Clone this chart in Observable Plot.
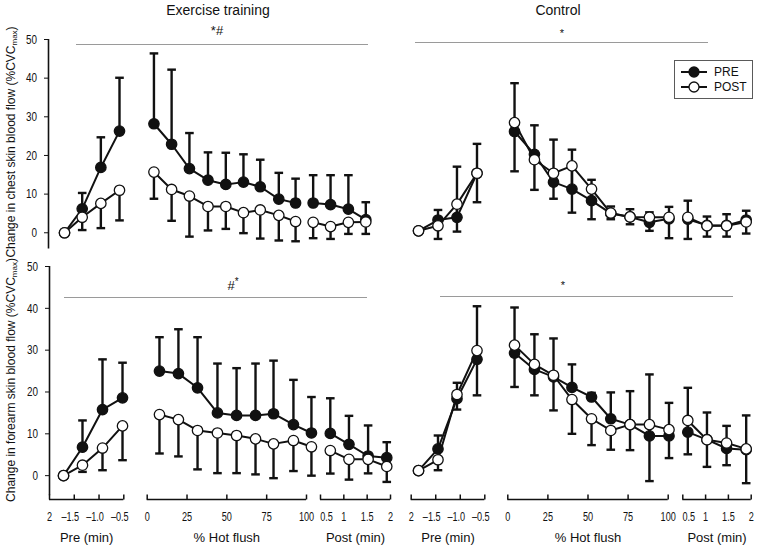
<!DOCTYPE html>
<html>
<head>
<meta charset="utf-8">
<script src="https://cdn.jsdelivr.net/npm/d3@7"></script>
<script src="https://cdn.jsdelivr.net/npm/@observablehq/plot@0.6"></script>
<style>
  html, body { margin: 0; padding: 0; background: #fff; }
  #fig { position: relative; width: 758px; height: 545px; overflow: hidden;
         font-family: "Liberation Sans", Arial, Helvetica, sans-serif; color: #111; }
  .abs { position: absolute; white-space: nowrap; line-height: 1; }
  .title { font-size: 14px; transform: translate(-50%, -50%); }
  .ylab { font-size: 12px; transform: translate(-50%, -50%) rotate(-90deg); }
  .ylab sub { font-size: 8px; vertical-align: -2px; }
  .sig { position: absolute; height: 1.5px; background: #9a9a9a; }
  .mark { transform: translate(-50%, -50%); }
  .legend { position: absolute; border: 1.5px solid #5a5a5a; background: #fff; box-sizing: border-box; }
  .lrow { position: absolute; left: 6px; height: 12px; display: flex; align-items: center; font-size: 12px; }
  .lrow svg { display: block; margin-right: 7px; }
</style>
</head>
<body>
<div id="fig"></div>
<script>
// ---------------- data ----------------
const segmentTitles = ["Pre (min)", "% Hot flush", "Post (min)"];
const preTicks = [-2, -1.5, -1, -0.5];
const preTickLabels = ["2", "\u20131.5", "\u20131.0", "\u20130.5"];
const hotTicks = [0, 25, 50, 75, 100];
const hotTickLabels = ["0", "25", "50", "75", "100"];
const postTicks = [0.5, 1, 1.5, 2];
const postTickLabels = ["0.5", "1", "1.5", "2"];
const yTicks = [0, 10, 20, 30, 40, 50];

// x positions of the measurements (segment units)
const leftPreX  = [-1.717, -1.334, -0.930, -0.526];
const leftHotX  = [7.7, 19.6, 31.6, 44.1, 56.1, 68.0, 79.3, 91.8, 103.1];
const leftPostX = [0.71, 1.11, 1.52, 1.92];
const rightPreX  = [-1.851, -1.454, -1.067, -0.659];
const rightHotX  = [4.2, 16.6, 28.5, 40.0, 52.2, 64.2, 76.2, 88.3, 100.5];
const rightPostX = [0.61, 1.03, 1.46, 1.89];

// Chest, exercise training
const chestExPre    = [0, 6.2, 16.9, 26.3, 28.2, 22.9, 16.6, 13.6, 12.5, 13.1, 11.9, 8.7, 7.7, 7.7, 7.3, 6.1, 3.4];
const chestExPreSD  = [0, 4.1, 7.8, 13.8, 18.2, 19.3, 9.2, 7.2, 8.2, 7.2, 7.0, 6.8, 6.3, 7.2, 7.6, 8.8, 4.5];
const chestExPost   = [0, 4.0, 7.6, 11.0, 15.7, 11.2, 9.5, 6.8, 6.8, 5.2, 5.9, 4.5, 2.9, 2.7, 1.6, 2.7, 2.8];
const chestExPostSD = [0, 3.3, 6.4, 7.8, 6.9, 8.1, 10.5, 6.2, 5.8, 5.3, 7.4, 6.5, 5.1, 4.1, 3.2, 3.0, 3.1];
// Chest, control
const chestCtPre    = [0.5, 3.3, 4.0, 15.4, 26.2, 20.3, 13.1, 11.3, 8.3, 5.0, 4.1, 2.7, 3.6, 3.5, 1.9, 1.9, 3.3];
const chestCtPreSD  = [0, 2.6, 13.1, 7.6, 12.5, 7.5, 11.0, 10.2, 5.4, 1.8, 2.0, 2.6, 3.1, 4.8, 2.3, 2.9, 2.4];
const chestCtPost   = [0.5, 1.8, 7.4, 15.4, 28.5, 18.9, 15.4, 17.3, 11.3, 5.1, 4.1, 4.0, 4.0, 4.0, 1.8, 1.8, 2.8];
const chestCtPostSD = [0, 3.4, 7.1, 7.5, 12.6, 7.8, 6.6, 12.1, 7.8, 1.6, 1.9, 3.5, 5.4, 5.6, 2.8, 2.8, 3.0];
// Forearm, exercise training
const foreExPre    = [0, 6.8, 15.8, 18.6, 25.0, 24.4, 21.0, 15.0, 14.4, 14.4, 14.8, 12.2, 10.2, 10.1, 7.5, 4.7, 4.3];
const foreExPreSD  = [0, 6.4, 12.0, 8.4, 8.1, 10.6, 12.1, 11.8, 11.3, 12.4, 12.7, 10.7, 8.6, 8.4, 6.8, 7.3, 3.7];
const foreExPost   = [0, 2.5, 6.6, 11.9, 14.6, 13.4, 10.8, 10.2, 9.6, 8.8, 7.6, 8.4, 6.9, 6.0, 3.9, 3.9, 2.2];
const foreExPostSD = [0, 1.6, 5.3, 8.2, 9.3, 8.8, 9.3, 9.6, 9.0, 8.5, 8.2, 7.3, 6.9, 5.5, 4.85, 3.35, 3.7];
// Forearm, control
const foreCtPre    = [1.2, 6.4, 18.4, 27.8, 29.3, 25.4, 23.6, 21.1, 18.8, 13.6, 12.2, 9.5, 9.5, 10.4, 8.6, 6.5, 6.2];
const foreCtPreSD  = [0, 3.2, 3.8, 12.7, 10.9, 8.4, 9.2, 5.5, 1.0, 6.3, 8.0, 14.7, 7.9, 10.6, 6.5, 5.4, 8.2];
const foreCtPost   = [1.2, 3.8, 19.4, 29.9, 31.2, 26.6, 24.0, 18.2, 13.6, 10.8, 12.2, 12.2, 11.0, 13.2, 8.6, 7.8, 6.4];
const foreCtPostSD = [0, 2.5, 3.6, 10.7, 10.0, 7.4, 8.4, 8.2, 6.3, 4.6, 6.1, 13.5, 6.8, 8.1, 6.5, 5.3, 8.2];

// ---------------- layout ----------------
const ink = "#111";
const regular = '"Liberation Sans", Arial, Helvetica, sans-serif';
const colRanges = {
  left:  {pre: [49, 123.3], hot: [146.7, 306], post: [320, 390]},
  right: {pre: [410.7, 484.3], hot: [507.3, 667.7], post: [682.3, 750.7]}
};
const squeeze = r => 64 + 0.932 * (r - 63); // the top-left panel is drawn slightly narrower
const squeezed = Object.fromEntries(Object.entries(colRanges.left).map(([k, v]) => [k, v.map(squeeze)]));
const rowScales = {
  top:    {domain: [-4.2, 50], range: [248.5, 39], axisBottom: -4.2},
  bottom: {domain: [-5.7, 50], range: [499, 266], axisBottom: -4.8}
};
const segmentDefs = [
  {key: "pre",  ticks: preTicks,  labels: preTickLabels,  title: segmentTitles[0]},
  {key: "hot",  ticks: hotTicks,  labels: hotTickLabels,  title: segmentTitles[1]},
  {key: "post", ticks: postTicks, labels: postTickLabels, title: segmentTitles[2]}
];
const numericLabels = new Set([...preTickLabels, ...hotTickLabels, ...postTickLabels, ...yTicks.map(String)]);

function buildRows(xs, pre, preSd, post, postSd) {
  const out = []; let i = 0;
  for (const s of ["pre", "hot", "post"]) for (const x of xs[s]) {
    out.push({seg: s, x, pre: pre[i], preSd: preSd[i], post: post[i], postSd: postSd[i]}); i++;
  }
  return out;
}
const leftX = {pre: leftPreX, hot: leftHotX, post: leftPostX};
const rightX = {pre: rightPreX, hot: rightHotX, post: rightPostX};

const panels = [
  {row: "top", ranges: squeezed, yAxis: true, axisLeft: 48, xAxis: false,
   rows: buildRows(leftX, chestExPre, chestExPreSD, chestExPost, chestExPostSD)},
  {row: "top", ranges: colRanges.right, yAxis: false, xAxis: false,
   rows: buildRows(rightX, chestCtPre, chestCtPreSD, chestCtPost, chestCtPostSD)},
  {row: "bottom", ranges: colRanges.left, yAxis: true, axisLeft: 49, xAxis: true,
   rows: buildRows(leftX, foreExPre, foreExPreSD, foreExPost, foreExPostSD)},
  {row: "bottom", ranges: colRanges.right, yAxis: false, xAxis: true,
   rows: buildRows(rightX, foreCtPre, foreCtPreSD, foreCtPost, foreCtPostSD)}
];

const capSymbol = {draw(ctx, size) { const r = Math.sqrt(size / Math.PI); ctx.moveTo(-r, 0); ctx.lineTo(r, 0); }};
const tickUpSymbol = {draw(ctx, size) { const r = Math.sqrt(size / Math.PI); ctx.moveTo(0, 0); ctx.lineTo(0, -r); }};

const fig = document.getElementById("fig");
const svgs = [];

for (const p of panels) {
  const ys = rowScales[p.row];
  const yMin = ys.domain[0];
  for (const seg of segmentDefs) {
    const rows = p.rows.filter(d => d.seg === seg.key);
    const preErr = rows.filter(d => d.preSd > 0);
    const postErr = rows.filter(d => d.postSd > 0);
    const showY = p.yAxis && seg.key === "pre";
    const t0 = seg.ticks[0], t1 = seg.ticks[seg.ticks.length - 1];
    const marks = [
      Plot.ruleX(preErr, {x: "x", y1: "pre", y2: d => d.pre + d.preSd, stroke: ink, strokeWidth: 2.4}),
      Plot.dot(preErr, {x: "x", y: d => d.pre + d.preSd, symbol: capSymbol, r: 4.3, fill: "none", stroke: ink, strokeWidth: 2.4}),
      Plot.ruleX(postErr, {x: "x", y1: "post", y2: d => d.post - d.postSd, stroke: ink, strokeWidth: 2.4}),
      Plot.dot(postErr, {x: "x", y: d => d.post - d.postSd, symbol: capSymbol, r: 4.3, fill: "none", stroke: ink, strokeWidth: 2.4}),
      Plot.line(rows, {x: "x", y: "pre", stroke: ink, strokeWidth: 2}),
      Plot.dot(rows, {x: "x", y: "pre", r: 5.2, fill: ink, stroke: ink, strokeWidth: 1.3}),
      Plot.line(rows, {x: "x", y: "post", stroke: ink, strokeWidth: 2}),
      Plot.dot(rows, {x: "x", y: "post", r: 5.2, fill: "white", stroke: ink, strokeWidth: 1.3})
    ];
    if (showY) {
      marks.push(Plot.ruleX([t0], {y1: ys.axisBottom, y2: 50, stroke: ink, strokeWidth: 1.6,
        dx: p.axisLeft - p.ranges.pre[0]}));
    }
    if (p.xAxis) {
      const tickRows = seg.ticks.map((v, i) => ({v, label: seg.labels[i]}));
      const nudge = d => d.label.startsWith("\u2013") ? -4 : d.label === "0.5" ? 6 : d.label === "100" ? 0 : 0;
      marks.push(
        Plot.ruleY([yMin], {x1: t0, x2: t1, stroke: ink, strokeWidth: 1.6}),
        Plot.dot(tickRows, {x: "v", y: yMin, symbol: tickUpSymbol, r: 5, fill: "none", stroke: ink, strokeWidth: 1.5}),
        ...[-4, 0, 6].map(dx => Plot.text(tickRows.filter(d => nudge(d) === dx), {
          x: "v", y: yMin, text: "label", dy: 18, dx, fontSize: 12, fontFamily: regular, fill: ink})),
        Plot.text([seg.title], {x: (t0 + t1) / 2, y: yMin, dy: 38.5, fontSize: 13, fontFamily: regular, fill: ink})
      );
    }
    const svg = Plot.plot({
      width: 758, height: 545,
      marginLeft: showY ? p.axisLeft : 0, marginRight: 0, marginTop: 0, marginBottom: 0,
      x: {domain: [t0, t1], range: p.ranges[seg.key], axis: null},
      y: {domain: ys.domain, range: ys.range, axis: showY ? "left" : null, ticks: yTicks,
          tickSize: 4, tickPadding: 7.5, label: null, tickFormat: d => String(d)},
      style: {background: "transparent", position: "absolute", left: "0px", top: "0px",
              fontFamily: regular, fontSize: "13px", color: ink, overflow: "visible"},
      marks
    });
    fig.appendChild(svg);
    svgs.push(svg);
  }
}

// the reference sets its numeric tick labels in a condensed face: squeeze them horizontally
for (const svg of svgs) {
  for (const t of svg.querySelectorAll("text")) {
    if (!numericLabels.has(t.textContent.trim())) continue;
    const L = t.getComputedTextLength();
    if (L > 0) {
      t.setAttribute("textLength", (L * 0.76).toFixed(2));
      t.setAttribute("lengthAdjust", "spacingAndGlyphs");
    }
  }
}

// ---------------- titles, annotations, legend ----------------
const overlay = `
  <div class="abs title" style="left:218px;top:10px">Exercise training</div>
  <div class="abs title" style="left:558px;top:10px">Control</div>
  <div class="abs ylab" style="left:12px;top:142px">Change in chest skin blood flow (%CVC<sub>max</sub>)</div>
  <div class="abs ylab" style="left:12px;top:380px">Change in forearm skin blood flow (%CVC<sub>max</sub>)</div>
  <div class="sig" style="left:76px;width:292px;top:43.5px"></div>
  <div class="sig" style="left:415px;width:293px;top:41.5px"></div>
  <div class="sig" style="left:64px;width:303px;top:296.5px"></div>
  <div class="sig" style="left:440px;width:293px;top:295.5px"></div>
  <div class="abs mark" style="left:217px;top:30px;font-size:13px">*#</div>
  <div class="abs mark" style="left:562px;top:33px;font-size:11px">*</div>
  <div class="abs mark" style="left:233px;top:285px;font-size:13px">#<span style="font-size:10px;position:relative;top:-5px">*</span></div>
  <div class="abs mark" style="left:563px;top:285px;font-size:11px">*</div>
  <div class="legend" style="left:674px;top:60px;width:79px;height:39px">
    <div class="lrow" style="top:5px"><svg width="26" height="12"><line x1="0" y1="6" x2="26" y2="6" stroke="${ink}" stroke-width="2"/><circle cx="13" cy="6" r="5" fill="${ink}" stroke="${ink}" stroke-width="1.3"/></svg><span>PRE</span></div>
    <div class="lrow" style="top:20px"><svg width="26" height="12"><line x1="0" y1="6" x2="26" y2="6" stroke="${ink}" stroke-width="2"/><circle cx="13" cy="6" r="5" fill="#fff" stroke="${ink}" stroke-width="1.3"/></svg><span>POST</span></div>
  </div>`;
fig.insertAdjacentHTML("beforeend", overlay);
</script>
</body>
</html>
